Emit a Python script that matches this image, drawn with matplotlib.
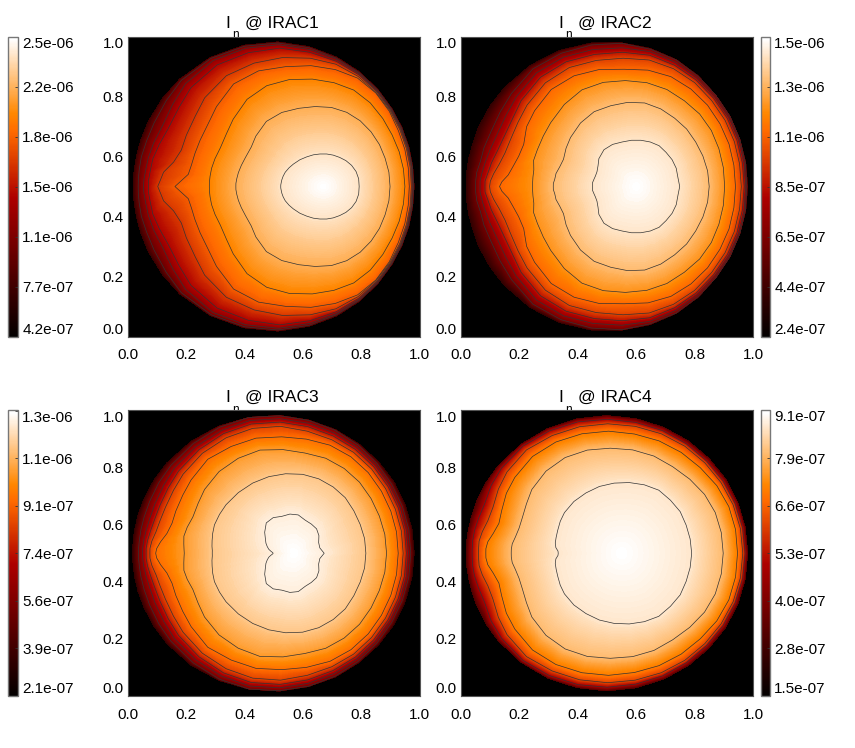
import numpy as np
import matplotlib
matplotlib.use("Agg")
import matplotlib.pyplot as plt
from matplotlib.cm import ScalarMappable
from matplotlib.colors import LinearSegmentedColormap, Normalize
from matplotlib.tri import Triangulation

plt.rcParams["font.family"] = ["Liberation Sans", "DejaVu Sans"]

W, H = 855, 748

# ray angles (deg) from each panel's brightest point, upper half; the lower half mirrors it
ANGLES = [0, 12, 24, 36, 48, 60, 72, 84, 96, 108, 120, 132, 144, 152, 160, 166, 171, 175, 178, 180]

NAMES = ["IRAC1", "IRAC2", "IRAC3", "IRAC4"]
PEAK_X = [0.67, 0.60, 0.57, 0.55]
VMIN = [4.2e-7, 2.4e-7, 2.1e-7, 1.5e-7]
VMAX = [2.5e-6, 1.5e-6, 1.3e-6, 9.1e-7]

CBAR_LABELS = [
    ["4.2e-07", "7.7e-07", "1.1e-06", "1.5e-06", "1.8e-06", "2.2e-06", "2.5e-06"],
    ["2.4e-07", "4.4e-07", "6.5e-07", "8.5e-07", "1.1e-06", "1.3e-06", "1.5e-06"],
    ["2.1e-07", "3.9e-07", "5.6e-07", "7.4e-07", "9.1e-07", "1.1e-06", "1.3e-06"],
    ["1.5e-07", "2.8e-07", "4.0e-07", "5.3e-07", "6.6e-07", "7.9e-07", "9.1e-07"],
]

# contour levels, inner to outer
LEVELS_1 = [2.375e-6, 2.146e-6, 1.96e-6, 1.79e-6, 1.63e-6, 1.40e-6, 1.21e-6, 1.00e-6]
LEVELS_2 = [1.43e-6, 1.32e-6, 1.21e-6, 1.10e-6, 1.00e-6, 8.7e-7, 7.5e-7, 6.2e-7]
LEVELS_3 = [1.26e-6, 1.17e-6, 1.07e-6, 9.7e-7, 8.7e-7, 7.6e-7, 6.5e-7, 5.4e-7]
LEVELS_4 = [8.7e-7, 8.0e-7, 7.0e-7, 6.1e-7, 4.9e-7]

# value right at the disk rim
RIM = [7.2e-7, 4.0e-7, 3.5e-7, 3.0e-7]

# distance from the peak to each level along each ray; last row is the disk rim
RADII_1 = [
    [.123, .124, .123, .120, .116, .112, .110, .109, .109, .111, .114, .120, .127, .133, .139, .142, .144, .145, .146, .146],
    [.229, .230, .232, .238, .245, .253, .260, .265, .268, .274, .285, .292, .286, .280, .284, .290, .295, .298, .300, .300],
    [.280, .281, .285, .292, .305, .322, .338, .348, .360, .375, .388, .391, .382, .376, .376, .383, .388, .390, .391, .391],
    [.295, .298, .306, .318, .338, .360, .380, .392, .405, .420, .445, .460, .453, .447, .450, .454, .458, .465, .490, .509],
    [.302, .305, .312, .324, .341, .362, .386, .410, .430, .452, .475, .497, .503, .498, .500, .502, .520, .550, .560, .568],
    [.305, .308, .315, .327, .344, .366, .392, .420, .450, .485, .515, .545, .561, .561, .566, .580, .592, .596, .600, .600],
    [.308, .311, .318, .330, .347, .369, .396, .426, .459, .497, .532, .565, .584, .585, .588, .600, .608, .612, .616, .617],
    [.310, .312, .320, .332, .349, .372, .399, .430, .465, .503, .540, .575, .602, .610, .618, .625, .632, .634, .635, .635],
    [.312, .314, .322, .334, .351, .374, .402, .434, .469, .507, .544, .579, .609, .625, .638, .645, .649, .651, .652, .652],
]
RADII_2 = [
    [.149, .146, .150, .152, .153, .157, .156, .155, .155, .156, .162, .165, .158, .148, .143, .144, .147, .150, .150, .150],
    [.250, .250, .250, .252, .258, .263, .272, .280, .282, .283, .288, .285, .278, .272, .265, .270, .278, .280, .284, .284],
    [.303, .305, .310, .318, .325, .330, .340, .348, .355, .365, .372, .368, .362, .360, .360, .362, .355, .355, .355, .355],
    [.340, .342, .348, .355, .365, .375, .385, .390, .393, .410, .426, .435, .430, .425, .410, .415, .427, .440, .460, .468],
    [.360, .362, .368, .376, .386, .400, .413, .424, .430, .442, .458, .465, .462, .458, .458, .463, .475, .490, .500, .502],
    [.370, .372, .378, .386, .396, .410, .425, .440, .450, .463, .480, .490, .487, .480, .482, .490, .502, .510, .518, .518],
    [.375, .378, .384, .392, .402, .417, .435, .452, .465, .480, .498, .510, .508, .505, .507, .515, .523, .530, .535, .535],
    [.379, .382, .388, .397, .408, .424, .443, .460, .480, .496, .513, .528, .528, .528, .530, .537, .540, .548, .550, .550],
    [.382, .384, .389, .398, .409, .426, .445, .463, .482, .503, .524, .543, .559, .568, .575, .578, .581, .582, .582, .582],
]
RADII_3 = [
    [.103, .090, .092, .105, .115, .118, .122, .135, .138, .136, .144, .143, .125, .112, .103, .095, .088, .080, .074, .072],
    [.246, .247, .248, .253, .262, .268, .274, .278, .280, .282, .284, .286, .289, .290, .291, .288, .285, .283, .281, .281],
    [.317, .318, .320, .326, .335, .343, .350, .353, .365, .380, .384, .385, .380, .373, .370, .378, .383, .380, .378, .377],
    [.357, .359, .363, .370, .380, .390, .398, .402, .410, .424, .432, .443, .437, .433, .432, .432, .442, .460, .472, .475],
    [.374, .376, .380, .387, .397, .408, .418, .430, .447, .460, .467, .471, .471, .469, .470, .474, .480, .490, .495, .495],
    [.385, .387, .391, .398, .408, .420, .432, .446, .462, .476, .484, .488, .490, .489, .490, .493, .499, .505, .508, .508],
    [.392, .394, .398, .405, .416, .429, .443, .458, .474, .489, .497, .503, .508, .507, .508, .510, .514, .518, .520, .520],
    [.400, .402, .406, .413, .424, .438, .453, .468, .484, .500, .510, .517, .523, .526, .528, .530, .532, .533, .534, .534],
    [.412, .413, .417, .424, .432, .443, .456, .470, .486, .501, .515, .528, .539, .545, .549, .552, .553, .554, .554, .554],
]
RADII_4 = [
    [.240, .240, .242, .248, .250, .255, .252, .249, .247, .246, .244, .244, .242, .238, .233, .231, .230, .226, .218, .217],
    [.348, .349, .351, .351, .349, .350, .358, .364, .370, .380, .387, .387, .380, .369, .362, .362, .368, .376, .378, .378],
    [.397, .399, .402, .403, .403, .408, .414, .420, .430, .440, .450, .456, .452, .447, .437, .433, .445, .460, .465, .465],
    [.415, .416, .418, .421, .426, .433, .440, .447, .456, .466, .476, .487, .485, .478, .469, .472, .483, .490, .490, .490],
    [.423, .424, .426, .430, .435, .443, .452, .461, .472, .484, .495, .505, .508, .506, .500, .505, .510, .512, .512, .512],
    [.432, .433, .436, .441, .447, .455, .464, .474, .485, .495, .505, .514, .522, .526, .529, .530, .531, .532, .532, .532],
]

LEVELS = [LEVELS_1, LEVELS_2, LEVELS_3, LEVELS_4]
RADII = [RADII_1, RADII_2, RADII_3, RADII_4]

XTICKS = [0.0, 0.2, 0.4, 0.6, 0.8, 1.0]

# IDL "red temperature" table
RED_TEMP = LinearSegmentedColormap(
    "red_temp",
    {
        "red": [(0, 0, 0), (0.69, 1, 1), (1, 1, 1)],
        "green": [(0, 0, 0), (0.47, 0, 0), (1, 1, 1)],
        "blue": [(0, 0, 0), (0.75, 0, 0), (1, 1, 1)],
    },
)


def box(left, top, right, bottom):
    return [left / W, 1 - bottom / H, (right - left) / W, (bottom - top) / H]


def build_tri(i):
    # mirrored rays round the peak, one shared vertex at the peak itself
    angles = np.radians(ANGLES + [360 - a for a in ANGLES[-2:0:-1]])
    radii = np.array(RADII[i])
    radii = np.hstack([radii, radii[:, -2:0:-1]])
    n_rings, n_rays = radii.shape
    values = np.array(LEVELS[i] + [RIM[i]])
    xx = np.r_[PEAK_X[i], (PEAK_X[i] + radii * np.cos(angles)).ravel()]
    yy = np.r_[0.5, (0.5 + radii * np.sin(angles)).ravel()]
    zz = np.r_[VMAX[i], np.repeat(values, n_rays)]

    def idx(ring, ray):
        return 1 + ring * n_rays + ray % n_rays

    triangles = []
    for ray in range(n_rays):
        triangles.append([0, idx(0, ray), idx(0, ray + 1)])
        for ring in range(n_rings - 1):
            triangles.append([idx(ring, ray), idx(ring + 1, ray), idx(ring + 1, ray + 1)])
            triangles.append([idx(ring, ray), idx(ring + 1, ray + 1), idx(ring, ray + 1)])
    return Triangulation(xx, yy, triangles), zz


def draw_panel(fig, i, rect, cbar_rect):
    left, top, right, bottom = rect
    ax = fig.add_axes(box(left, top, right, bottom), facecolor="black")
    tri, zz = build_tri(i)
    norm = Normalize(VMIN[i], VMAX[i])

    # aliased fill bands: no seams, and the rim comes out stepped like the original cells
    ax.tricontourf(tri, zz, levels=np.linspace(RIM[i], VMAX[i], 200), cmap=RED_TEMP, norm=norm, antialiased=False)
    ax.tricontour(tri, zz, levels=sorted(LEVELS[i]), colors="#333333", linewidths=0.5)
    ax.set_xlim(0, 1)
    ax.set_ylim(0, 1)
    ax.set_xticks(XTICKS)
    ax.set_yticks(XTICKS)
    ax.set_xticklabels([f"{t:.1f}" for t in XTICKS], fontsize=11)
    ax.set_yticklabels([f"{t:.1f}" for t in XTICKS], fontsize=11)
    ax.tick_params(axis="x", length=0, pad=8.5)
    ax.tick_params(axis="y", length=0, pad=3)
    ylabels = ax.get_yticklabels()
    ylabels[0].set_va("bottom")
    ylabels[-1].set_va("top")
    for spine in ax.spines.values():
        spine.set_color("#555555")
        spine.set_linewidth(0.8)

    # title pieces sit where the original put them; the subscript runs under the image
    base = 1 - (top - 8.5) / H
    fig.text((left + 100) / W, base, "I", fontsize=12.5, ha="center", va="baseline")
    fig.text((left + 117) / W, base, f"@ {NAMES[i]}", fontsize=12.5, ha="left", va="baseline")
    fig.text((left + 107) / W, 1 - (top + 2) / H, "n", fontsize=8.5, ha="center", va="baseline", zorder=-1)

    cax = fig.add_axes(box(*cbar_rect))
    cbar = fig.colorbar(ScalarMappable(norm=norm, cmap=RED_TEMP), cax=cax)
    cbar.solids.set_edgecolor("face")
    cbar.outline.set_edgecolor("#777777")
    cbar.outline.set_linewidth(1.0)
    ticks = np.linspace(VMIN[i], VMAX[i], 7)
    cbar.set_ticks(ticks, labels=CBAR_LABELS[i])
    cbar.minorticks_off()
    cax.tick_params(axis="y", direction="in", length=2, width=0.6, color="#333333", pad=3.5, labelsize=11)
    clabels = cax.get_yticklabels()
    clabels[0].set_va("bottom")
    clabels[-1].set_va("top")


fig = plt.figure(figsize=(W / 100, H / 100), dpi=100, facecolor="white")

draw_panel(fig, 0, (128, 36.5, 419.5, 336.5), (8, 36.5, 17.5, 336.5))
draw_panel(fig, 1, (461, 36.5, 753, 336.5), (761, 36.5, 769.5, 336.5))
draw_panel(fig, 2, (128, 410.5, 419.5, 696), (8, 410.5, 17.5, 696))
draw_panel(fig, 3, (461, 410.5, 753, 696), (761, 410.5, 769.5, 696))

fig.savefig("out.png", dpi=100, facecolor="white")
plt.close(fig)
